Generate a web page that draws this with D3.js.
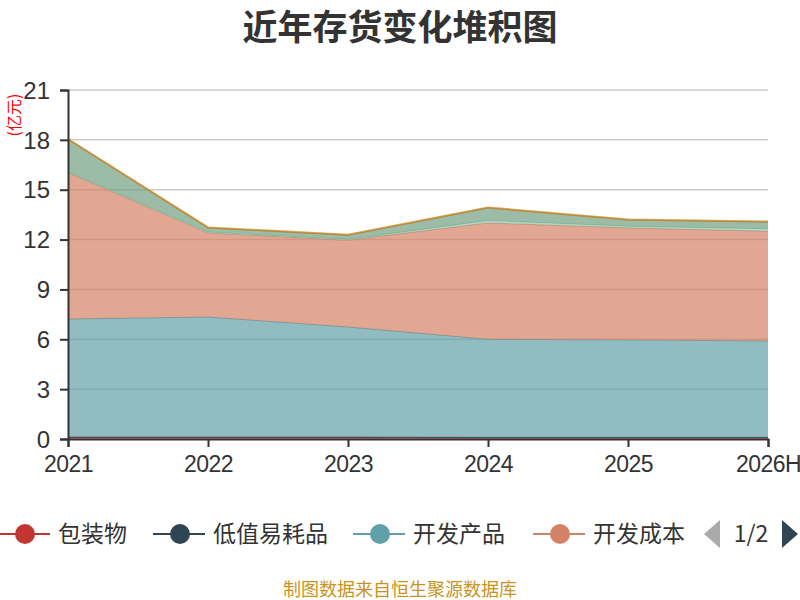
<!DOCTYPE html>
<html>
<head>
<meta charset="utf-8">
<script src="https://cdn.jsdelivr.net/npm/d3@7/dist/d3.min.js"></script>
<style>
  html, body { margin: 0; padding: 0; background: #fff; }
  svg { display: block; font-family: "Noto Sans CJK SC", "Noto Sans", sans-serif; }
</style>
</head>
<body>
<div id="chart"></div>
<script>
const years = ["2021", "2022", "2023", "2024", "2025", "2026H"];
const seriesNames = ["包装物", "低值易耗品", "开发产品", "开发成本", "原材料", "库存商品", "周转材料"];
const colors = ["#c23531", "#2f4554", "#61a0a8", "#d48265", "#91c7ae", "#749f83", "#ca8622"];

const baozhuang   = [0.10, 0.10, 0.10, 0.08, 0.08, 0.08];
const dizhi       = [0.02, 0.02, 0.02, 0.02, 0.02, 0.02];
const kaifaChanpin = [7.10, 7.22, 6.62, 5.90, 5.86, 5.80];
const kaifaChengben = [8.80, 5.06, 5.22, 7.00, 6.74, 6.60];
const yuancailiao = [0.05, 0.05, 0.05, 0.15, 0.10, 0.15];
const kucun       = [1.95, 0.25, 0.25, 0.75, 0.38, 0.40];
const zhouzhuan   = [0.03, 0.03, 0.03, 0.03, 0.03, 0.03];

const yTicks = [0, 3, 6, 9, 12, 15, 18, 21];

const values = [baozhuang, dizhi, kaifaChanpin, kaifaChengben, yuancailiao, kucun, zhouzhuan];
const rows = years.map((y, i) => {
    const r = {year: y};
    seriesNames.forEach((n, k) => { r[n] = values[k][i]; });
    return r;
});

const W = 800, H = 600;
const margin = {top: 90, right: 32, bottom: 161, left: 68};
const width = W - margin.left - margin.right;
const height = H - margin.top - margin.bottom;

const svg = d3.select("#chart").append("svg")
    .attr("width", W)
    .attr("height", H)
    .attr("viewBox", `0 0 ${W} ${H}`);

const g = svg.append("g")
    .attr("transform", `translate(${margin.left},${margin.top})`);

const x = d3.scalePoint().domain(years).range([0, width]);
const y = d3.scaleLinear().domain([0, 21]).range([height, 0]);

// grid lines
g.append("g")
    .selectAll("line")
    .data(yTicks.filter(t => t > 0))
    .enter().append("line")
    .attr("x1", 0).attr("x2", width)
    .attr("y1", d => y(d)).attr("y2", d => y(d))
    .attr("stroke", "#ccc")
    .attr("stroke-width", 1.5);

const stack = d3.stack().keys(seriesNames);
const series = stack(rows);

const area = d3.area()
    .x(d => x(d.data.year))
    .y0(d => y(d[0]))
    .y1(d => y(d[1]));

const line = d3.line()
    .x(d => x(d.data.year))
    .y(d => y(d[1]));

const layers = g.append("g").selectAll("g")
    .data(series)
    .enter().append("g");

layers.append("path")
    .attr("d", area)
    .attr("fill", (d, i) => colors[i])
    .attr("fill-opacity", 0.7);

layers.append("path")
    .attr("d", line)
    .attr("fill", "none")
    .attr("stroke", (d, i) => colors[i])
    .attr("stroke-opacity", (d, i) => i === 6 ? 0.75 : 1)
    .attr("stroke-width", (d, i) => i === 6 ? 2 : 1);

// axes
const yAxis = g.append("g")
    .call(d3.axisLeft(y).tickValues(yTicks).tickSize(8).tickPadding(10));
yAxis.select(".domain").attr("stroke", "#333").attr("stroke-width", 2);
yAxis.selectAll(".tick line").attr("stroke", "#333").attr("stroke-width", 2);
yAxis.selectAll(".tick text")
    .attr("fill", "#333")
    .style("font-size", "24px")
    .attr("dy", "0.34em");

const xAxis = g.append("g")
    .attr("transform", `translate(0,${height})`)
    .call(d3.axisBottom(x).tickSize(8).tickPadding(4));
xAxis.select(".domain").attr("stroke", "#333").attr("stroke-width", 2);
xAxis.selectAll(".tick line").attr("stroke", "#333").attr("stroke-width", 2);
xAxis.selectAll(".tick text")
    .attr("fill", "#333")
    .style("font-size", "23px")
    .style("letter-spacing", "-0.6px")
    .attr("dy", "0.92em");

// y axis name
svg.append("text")
    .attr("transform", "translate(20,115) rotate(-90)")
    .attr("text-anchor", "middle")
    .attr("fill", "#ff0000")
    .style("font-size", "16px")
    .text("(亿元)");

// title
svg.append("text")
    .attr("x", W / 2)
    .attr("y", 40)
    .attr("text-anchor", "middle")
    .attr("fill", "#333")
    .style("font-size", "35px")
    .style("font-weight", "bold")
    .text("近年存货变化堆积图");

// legend (page 1 of 2)
const legendItems = [
    {name: seriesNames[0], color: colors[0], x: 0},
    {name: seriesNames[1], color: colors[1], x: 155},
    {name: seriesNames[2], color: colors[2], x: 355},
    {name: seriesNames[3], color: colors[3], x: 535}
];
const legendY = 534;
const leg = svg.append("g").selectAll("g")
    .data(legendItems)
    .enter().append("g")
    .attr("transform", d => `translate(${d.x},${legendY})`);
leg.append("line")
    .attr("x1", -2).attr("x2", 50)
    .attr("stroke", d => d.color)
    .attr("stroke-width", 2);
leg.append("circle")
    .attr("cx", 25).attr("r", 10)
    .attr("fill", d => d.color);
leg.append("text")
    .attr("x", 58)
    .attr("dy", "0.36em")
    .attr("fill", "#333")
    .style("font-size", "23px")
    .text(d => d.name);

svg.append("path")
    .attr("d", `M720,${legendY - 14} L704,${legendY} L720,${legendY + 14} Z`)
    .attr("fill", "#aaa");
svg.append("text")
    .attr("x", 751)
    .attr("y", legendY)
    .attr("dy", "0.36em")
    .attr("text-anchor", "middle")
    .attr("fill", "#333")
    .style("font-size", "23px")
    .text("1/2");
svg.append("path")
    .attr("d", `M782,${legendY - 14} L798,${legendY} L782,${legendY + 14} Z`)
    .attr("fill", "#2f4554");

// source note
svg.append("text")
    .attr("x", W / 2)
    .attr("y", 590)
    .attr("dy", "0.36em")
    .attr("text-anchor", "middle")
    .attr("fill", "#c8941e")
    .style("font-size", "18px")
    .text("制图数据来自恒生聚源数据库");
</script>
</body>
</html>
